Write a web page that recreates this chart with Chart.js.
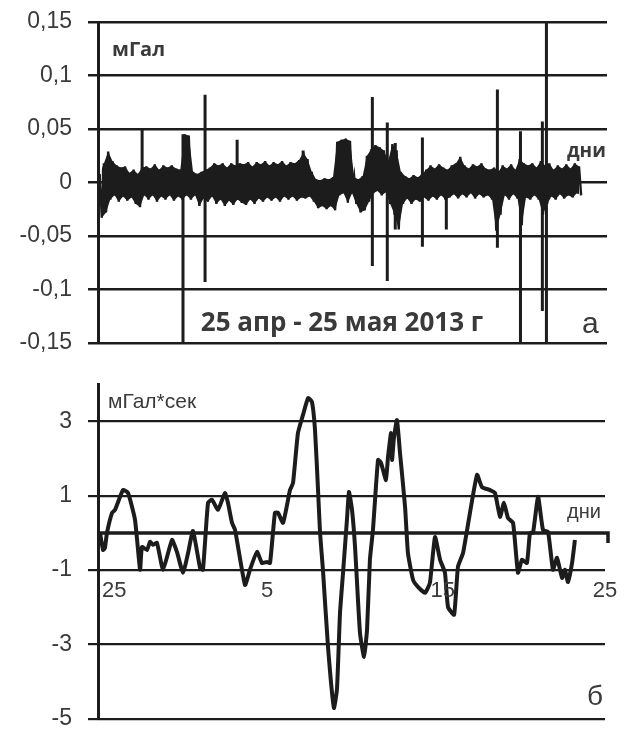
<!DOCTYPE html>
<html>
<head>
<meta charset="utf-8">
<script src="https://cdn.jsdelivr.net/npm/chart.js@4"></script>
<style>
  body { margin: 0; background: #fff; }
  canvas { display: block; }
</style>
</head>
<body>
<canvas id="topChart" width="630" height="360"></canvas>
<canvas id="bottomChart" width="630" height="369"></canvas>
<script>
// --- panel a: gravity record (mGal), band envelope + spikes ---
const bandDays = [0.1,0.35,0.6,0.85,1.1,1.35,1.6,1.85,2.1,2.35,2.6,2.85,3.1,3.35,3.6,3.85,4.1,4.35,4.6,4.85,
  5.1,5.35,5.6,5.85,6.1,6.35,6.6,6.85,7.1,7.35,7.6,7.85,8.1,8.35,8.6,8.85,9.1,9.35,9.6,9.85,
  10.1,10.35,10.6,10.85,11.1,11.35,11.6,11.85,12.1,12.35,12.6,12.85,13.1,13.35,13.6,13.85,14.1,14.35,14.6,14.85,
  15.1,15.35,15.6,15.85,16.1,16.35,16.6,16.85,17.1,17.35,17.6,17.85,18.1,18.35,18.6,18.85,19.1,19.35,19.6,19.85,
  20.1,20.35,20.6,20.85,21.1,21.35,21.6,21.85,22.1,22.35,22.6,22.85,23.1,23.35,23.6,23.85,24.1,24.35,24.6,24.85,
  25.1,25.35,25.6,25.85,26.1,26.35,26.6,26.85,27.1,27.35,27.6,27.85,28.1,28.35];
const bandHi = [0.008,0.018,0.029,0.020,0.016,0.014,0.015,0.009,0.012,0.008,
  0.014,0.015,0.013,0.017,0.012,0.016,0.014,0.016,0.013,0.012,
  0.045,0.044,0.010,0.008,0.010,0.012,0.014,0.018,0.016,0.018,
  0.014,0.018,0.016,0.018,0.017,0.019,0.015,0.019,0.017,0.020,
  0.016,0.019,0.017,0.020,0.016,0.019,0.018,0.021,0.028,0.022,
  0.010,0.003,0.002,0.004,0.003,0.005,0.038,0.040,0.041,0.039,
  0.005,0.003,0.006,0.025,0.031,0.035,0.033,0.030,0.020,0.036,
  0.030,0.010,0.006,0.004,0.007,0.005,0.008,0.012,0.016,0.013,
  0.017,0.014,0.012,0.016,0.018,0.024,0.016,0.013,0.017,0.015,
  0.018,0.013,0.012,0.014,0.010,0.016,0.013,0.017,0.012,0.022,
  0.018,0.016,0.018,0.014,0.020,0.016,0.018,0.012,0.016,0.013,
  0.017,0.013,0.018,0.015];
const bandLo = [-0.033,-0.028,-0.016,-0.012,-0.018,-0.013,-0.017,-0.014,-0.020,-0.023,
  -0.012,-0.016,-0.012,-0.018,-0.013,-0.016,-0.012,-0.017,-0.013,-0.016,
  -0.012,-0.016,-0.012,-0.022,-0.015,-0.018,-0.013,-0.020,-0.016,-0.022,
  -0.017,-0.021,-0.016,-0.019,-0.021,-0.016,-0.020,-0.015,-0.018,-0.014,
  -0.017,-0.014,-0.018,-0.013,-0.016,-0.013,-0.017,-0.014,-0.015,-0.013,
  -0.018,-0.024,-0.022,-0.025,-0.022,-0.026,-0.012,-0.010,-0.019,-0.010,
  -0.020,-0.028,-0.026,-0.018,-0.010,-0.008,-0.012,-0.009,-0.020,-0.030,
  -0.044,-0.020,-0.015,-0.020,-0.016,-0.018,-0.014,-0.017,-0.013,-0.016,
  -0.012,-0.016,-0.014,-0.011,-0.015,-0.011,-0.014,-0.010,-0.015,-0.011,
  -0.014,-0.012,-0.016,-0.045,-0.030,-0.012,-0.016,-0.011,-0.015,-0.040,
  -0.014,-0.016,-0.012,-0.016,-0.030,-0.020,-0.013,-0.016,-0.011,-0.015,
  -0.012,-0.014,-0.010,-0.012];
const spikeDays    = [2.6, 5.01, 6.31, 8.2, 12.09, 16.17, 17.05, 17.52, 19.12, 20.53, 23.54, 24.9, 26.19, 26.43];
const spikeTops    = [0.05, 0.045, 0.082, 0.04, 0.03, 0.08, 0.056, 0.037, 0.042, 0.01, 0.087, 0.048, 0.057, 0.15];
const spikeBottoms = [0, -0.15, -0.093, 0, 0, -0.078, -0.092, -0.044, -0.06, -0.044, -0.061, -0.15, -0.12, -0.15];
const yTicksTop = [-0.15, -0.1, -0.05, 0, 0.05, 0.1, 0.15];

// --- panel б: integrated record (mGal*s) ---
const intDays = [0.12,0.3,0.41,0.53,0.83,1.01,1.48,1.78,2.19,2.49,2.6,2.9,3.08,3.25,3.49,3.85,4.38,4.67,5.03,5.33,
  5.62,6.04,6.21,6.51,6.75,7.1,7.51,7.69,7.93,8.11,8.7,8.99,9.41,9.7,10.0,10.18,10.47,10.65,10.95,11.36,
  11.54,11.83,12.13,12.43,12.66,12.84,13.02,13.14,13.31,13.61,13.96,14.14,14.32,14.5,14.73,14.85,15.03,15.21,15.5,15.74,
  15.92,16.09,16.27,16.57,16.75,17.04,17.16,17.34,17.4,17.51,17.69,17.87,18.17,18.34,18.64,18.93,19.35,19.64,19.94,20.24,
  20.53,20.71,21.07,21.3,21.6,22.01,22.43,22.72,23.2,23.49,23.79,24.02,24.26,24.56,24.85,25.09,25.38,25.56,25.74,26.04,
  26.33,26.63,26.92,27.16,27.46,27.63,27.81,28.05,28.22];
const intValues = [0,-0.46,-0.4,0,0.54,0.62,1.15,1.07,0.35,-0.99,-0.38,-0.46,-0.24,-0.32,-0.27,-0.99,-0.19,-0.51,-1.07,-0.54,
  0.05,-0.94,-0.99,0.81,0.89,0.62,1.07,0.81,0.27,0.08,-1.4,-0.99,-0.51,-0.81,-0.78,-0.81,0.54,0.54,0.27,1.15,
  1.34,2.68,3.17,3.62,3.52,2.77,1.15,0,-0.99,-3.06,-4.7,-4.2,-2.15,-1.07,0.35,1.1,0.62,-0.38,-2.68,-3.33,
  -2.6,-0.72,0.08,1.96,1.88,1.42,2.04,2.68,1.96,2.55,3.03,2.15,0.7,-0.54,-1.26,-1.45,-1.61,-1.34,-0.11,-0.72,
  -1.07,-1.99,-2.2,-0.91,-0.54,0.54,1.56,1.23,1.15,1.07,0.43,0.81,0.4,0.27,-1.07,-0.72,-0.81,0,0,0.97,
  0.08,0.03,-0.99,-0.67,-1.21,-0.99,-1.32,-0.81,-0.19];
const yTicksBottom = [-5, -3, -1, 1, 3];
const xLabelDays = [0, 10, 20.4, 30];
const xLabels = ["25", "5", "15", "25"];

const INK = "#1c1c1c";
const TXT = "#3a3a3a";
const tickFont = { family: "Liberation Sans", size: 23 };

// noisy band: swing between the upper and lower envelope
const bandData = [];
bandDays.forEach((d, i) => {
  bandData.push({ x: d, y: bandHi[i] });
  bandData.push({ x: d + 0.125, y: bandLo[i] });
});

// spikes as one line with gaps
const spikeData = [];
spikeDays.forEach((d, i) => {
  spikeData.push({ x: d, y: spikeTops[i] });
  spikeData.push({ x: d, y: spikeBottoms[i] });
  spikeData.push({ x: d, y: null });
});

// fixed y-axis width, no extra label padding so layout.padding sets the plot box
function fixAxis(s) {
  s.width = 98;
  s.paddingTop = 0;
  s.paddingBottom = 0;
}

const topText = {
  id: "topText",
  afterDraw(chart) {
    const ctx = chart.ctx;
    ctx.save();
    ctx.fillStyle = TXT;
    ctx.textBaseline = "alphabetic";
    ctx.font = "bold 20px 'Open Sans'";
    ctx.fillText("мГал", 112, 56);
    ctx.font = "bold 19px 'Open Sans'";
    ctx.fillText("дни", 567, 157);
    ctx.textAlign = "center";
    ctx.font = "bold 26px 'Open Sans'";
    ctx.fillText("25 апр - 25 мая 2013 г", 342, 331);
    ctx.textAlign = "left";
    ctx.font = "30px 'Liberation Sans'";
    ctx.fillText("а", 582, 333);
    ctx.restore();
  }
};

new Chart(document.getElementById("topChart"), {
  type: "line",
  data: {
    datasets: [
      {
        data: bandDays.map((d, i) => ({ x: d, y: bandHi[i] })),
        borderWidth: 0, backgroundColor: INK,
        pointRadius: 0, fill: "+1"
      },
      {
        data: bandDays.map((d, i) => ({ x: d + 0.125, y: bandLo[i] })),
        borderWidth: 0, backgroundColor: INK,
        pointRadius: 0, fill: false
      },
      {
        data: bandData,
        borderColor: INK, borderWidth: 2.4,
        pointRadius: 0, fill: false
      },
      {
        data: spikeData,
        borderColor: INK, borderWidth: 3,
        pointRadius: 0, fill: false, spanGaps: false
      }
    ]
  },
  options: {
    responsive: false,
    animation: false,
    devicePixelRatio: 1,
    layout: { padding: { left: 0, right: 23, top: 22, bottom: 17 } },
    plugins: { legend: { display: false }, tooltip: { enabled: false } },
    scales: {
      x: { type: "linear", min: 0, max: 30, display: false },
      y: {
        min: -0.15, max: 0.15,
        afterBuildTicks: s => { s.ticks = yTicksTop.map(v => ({ value: v })); },
        afterFit: fixAxis,
        grid: { color: INK, lineWidth: 2.5, tickLength: 10 },
        border: { color: INK, width: 3 },
        ticks: {
          padding: 16, color: TXT, font: tickFont,
          callback: v => String(v).replace(".", ",")
        }
      }
    }
  },
  plugins: [topText]
});

const bottomText = {
  id: "bottomText",
  beforeDatasetsDraw(chart) {
    const ctx = chart.ctx;
    const xs = chart.scales.x, ys = chart.scales.y;
    const y0 = ys.getPixelForValue(0);
    ctx.save();
    ctx.strokeStyle = INK;
    ctx.lineWidth = 3.5;
    ctx.beginPath();
    ctx.moveTo(xs.left, y0);
    ctx.lineTo(xs.right + 3, y0);
    ctx.lineTo(xs.right + 3, y0 + 10);
    ctx.stroke();
    ctx.restore();
  },
  afterDraw(chart) {
    const ctx = chart.ctx;
    const xs = chart.scales.x, ys = chart.scales.y;
    ctx.save();
    ctx.fillStyle = TXT;
    ctx.textBaseline = "alphabetic";
    ctx.font = "22px 'Liberation Sans'";
    const yl = ys.getPixelForValue(-1) + 27;
    xLabelDays.forEach((d, i) => {
      ctx.textAlign = i === 0 ? "left" : "center";
      ctx.fillText(xLabels[i], xs.getPixelForValue(d) + (i === 0 ? 4 : 0), yl);
    });
    ctx.textAlign = "left";
    ctx.font = "21px 'Liberation Sans'";
    ctx.fillText("мГал*сек", 108, 48);
    ctx.font = "20px 'Liberation Sans'";
    ctx.fillText("дни", 567, 158);
    ctx.font = "28px 'Liberation Sans'";
    ctx.fillText("б", 587, 345);
    ctx.restore();
  }
};

new Chart(document.getElementById("bottomChart"), {
  type: "line",
  data: {
    datasets: [{
      data: intDays.map((d, i) => ({ x: d, y: intValues[i] })),
      borderColor: INK, borderWidth: 4, borderJoinStyle: "round",
      pointRadius: 0, fill: false, tension: 0.15
    }]
  },
  options: {
    responsive: false,
    animation: false,
    devicePixelRatio: 1,
    layout: { padding: { left: 0, right: 25, top: 24, bottom: 10 } },
    plugins: { legend: { display: false }, tooltip: { enabled: false } },
    scales: {
      x: { type: "linear", min: 0, max: 30, display: false },
      y: {
        min: -5, max: 4,
        afterBuildTicks: s => { s.ticks = yTicksBottom.map(v => ({ value: v })); },
        afterFit: fixAxis,
        grid: { color: INK, lineWidth: 2.2, tickLength: 10 },
        border: { color: INK, width: 3 },
        ticks: { padding: 16, color: TXT, font: tickFont }
      }
    }
  },
  plugins: [bottomText]
});
</script>
</body>
</html>
